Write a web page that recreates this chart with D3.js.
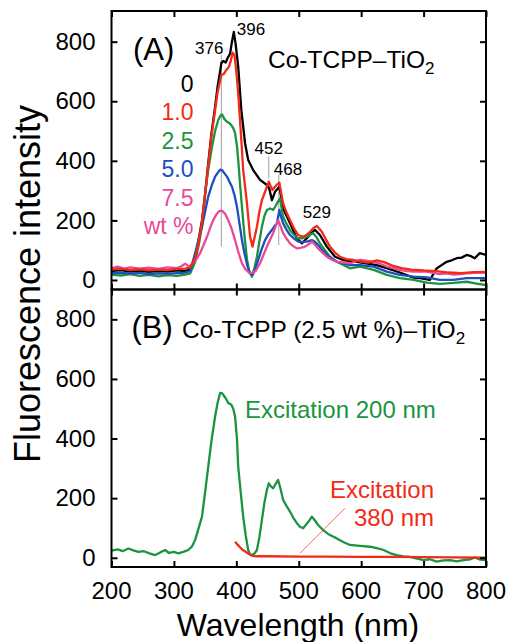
<!DOCTYPE html>
<html lang="en">
<head>
<script src="https://d3js.org/d3.v7.min.js"></script>
</head>
<style>
  body { margin: 0; background: #fff; }
  text { font-family: "Liberation Sans", Arial, sans-serif; }
</style>
<body>
<script>
// Panel A: Co-TCPP loading series [wavelength nm, intensity]
const wt0 = [[200,30],[215,33],[230,28],[245,31],[260,27],[275,30],[290,28],[305,32],[318,30],[326,36],[334,74],[340,140],[345,200],[350,290],[355,392],[360,490],[366,581],[370,650],[374,700],[376,728],[379,735],[383,730],[386,745],[390,760],[393,800],[396,833],[399,790],[403,716],[408,570],[414,459],[419,403],[427,369],[438,336],[449,319],[453,305],[457,268],[462,296],[469,313],[475,240],[486,190],[497,140],[505,123],[513,140],[521,160],[526,168],[534,151],[545,112],[558,78],[571,67],[593,61],[610,55],[625,50],[641,40],[662,25],[684,8],[694,6],[710,0],[721,39],[737,61],[745,66],[753,73],[761,75],[769,84],[776,80],[782,73],[790,90],[800,84]];
const wt1 = [[200,35],[215,38],[230,33],[245,36],[260,32],[275,35],[290,33],[305,37],[318,38],[326,42],[334,72],[340,130],[345,195],[350,285],[355,385],[360,480],[366,570],[370,630],[374,670],[376,688],[380,692],[384,705],[388,715],[391,735],[394,763],[397,755],[400,700],[403,627],[408,470],[411,369],[417,258],[422,145],[426,112],[430,150],[433,179],[437,230],[441,268],[446,296],[452,330],[455,315],[458,302],[462,313],[466,322],[469,327],[472,290],[475,257],[480,228],[486,201],[492,175],[499,151],[507,145],[513,152],[518,162],[524,175],[529,181],[533,172],[537,162],[543,138],[550,112],[558,92],[566,78],[576,70],[588,67],[600,62],[612,58],[625,66],[637,60],[650,48],[665,40],[680,35],[700,32],[720,30],[740,25],[760,23],[780,26],[800,27]];
const wt25 = [[200,18],[215,15],[230,20],[245,14],[260,17],[275,12],[290,16],[305,14],[318,18],[326,22],[334,60],[340,120],[345,180],[350,291],[355,370],[361,447],[366,500],[371,537],[374,550],[377,556],[381,540],[385,531],[388,528],[392,520],[395,510],[398,493],[401,450],[403,403],[406,320],[409,246],[413,150],[417,70],[421,25],[425,11],[429,40],[433,78],[437,130],[441,179],[445,215],[449,235],[454,240],[459,235],[462,245],[465,257],[470,274],[475,212],[480,190],[486,168],[492,152],[499,140],[506,140],[513,145],[518,152],[523,157],[528,145],[534,123],[542,100],[550,78],[558,65],[566,56],[574,48],[582,39],[598,45],[620,34],[641,17],[662,6],[684,0],[705,-9],[726,-13],[748,-10],[769,-6],[785,-12],[800,-17]];
const wt5 = [[200,23],[215,25],[230,21],[245,24],[260,20],[275,22],[290,21],[305,23],[318,25],[326,30],[334,90],[340,140],[345,179],[350,230],[355,280],[361,320],[366,347],[371,362],[374,370],[377,369],[381,358],[385,347],[389,330],[393,313],[397,285],[401,246],[405,190],[409,134],[413,90],[418,45],[422,23],[426,17],[431,40],[435,67],[440,100],[446,134],[451,152],[457,168],[461,180],[465,190],[469,235],[472,210],[475,190],[480,170],[486,151],[492,140],[499,129],[506,128],[513,129],[521,134],[526,128],[531,117],[538,100],[545,84],[553,72],[561,61],[572,55],[582,50],[598,50],[620,45],[641,28],[662,17],[684,11],[705,9],[726,0],[748,0],[769,6],[800,6]];
const wt75 = [[200,40],[210,45],[220,38],[230,42],[245,38],[260,41],[275,37],[290,42],[305,40],[312,46],[318,55],[324,45],[330,55],[336,70],[342,90],[347,115],[353,145],[358,175],[363,201],[368,220],[372,230],[377,233],[382,222],[387,201],[392,175],[398,134],[403,95],[409,56],[415,35],[420,25],[425,23],[431,30],[438,56],[443,82],[449,112],[454,135],[459,157],[463,180],[467,201],[471,180],[475,157],[480,140],[486,123],[491,114],[497,106],[503,108],[510,112],[516,120],[521,129],[526,118],[531,106],[538,92],[545,78],[553,68],[561,61],[572,58],[582,56],[598,67],[610,64],[620,61],[630,55],[641,45],[652,40],[662,34],[673,30],[684,28],[705,28],[715,24],[726,20],[737,22],[748,18],[759,20],[769,22],[780,24],[800,25]];

// Panel B: 2.5 wt % sample at two excitation wavelengths
const ex200 = [[200,24],[210,28],[218,22],[227,31],[235,25],[243,20],[252,22],[262,14],[270,9],[278,18],[286,26],[292,16],[300,20],[307,15],[315,20],[323,26],[329,38],[334,60],[339,95],[345,138],[350,220],[355,306],[360,390],[366,474],[370,520],[374,553],[377,552],[379,547],[383,535],[387,519],[392,513],[395,500],[398,474],[401,400],[403,306],[407,220],[411,138],[415,75],[419,26],[422,12],[425,9],[429,14],[433,26],[437,70],[441,127],[445,185],[449,228],[452,250],[455,240],[459,233],[463,248],[467,261],[471,230],[475,194],[480,175],[486,155],[491,135],[497,116],[502,104],[507,99],[512,112],[517,125],[521,138],[526,125],[531,110],[539,93],[547,80],[554,72],[561,65],[572,52],[582,43],[598,40],[614,37],[625,32],[636,26],[647,15],[657,9],[668,5],[678,3],[690,-3],[700,-8],[710,-5],[721,-13],[732,-9],[742,-8],[753,-12],[764,-8],[775,-5],[782,1],[790,-6],[800,-8]];
const ex380 = [[398,54],[402,44],[406,35],[410,27],[415,20],[419,14],[423,9],[427,6],[432,5],[450,5],[500,4],[550,4],[600,3],[650,3],[700,2],[750,1],[800,0]];

const xTicks = [200, 300, 400, 500, 600, 700, 800];
const yTicks = [0, 200, 400, 600, 800];
const legendLabels = ["0", "1.0", "2.5", "5.0", "7.5", "wt %"];
// peak markers: [nm, line from, line to]
const peakLines = [[376, 112, 755], [452, 341, 414], [468, 117, 352]];

const W = 511, H = 642;
const left = 111.5, right = 486;
const colors = {black: "#000", red: "#f22a17", green: "#1a9440", blue: "#1c4fbf", pink: "#ea4a95"};

const svg = d3.select("body").append("svg")
  .attr("width", W).attr("height", H);
svg.append("rect").attr("width", W).attr("height", H).attr("fill", "#fff");

const x = d3.scaleLinear().domain([200, 800]).range([left, right]);
const yA = d3.scaleLinear().domain([-32, 903]).range([289.5, 11]);
const yB = d3.scaleLinear().domain([-31, 900]).range([567, 289.5]);

function drawFrame(y, top, bottom) {
  const g = svg.append("g");
  const tk = 6;
  g.append("g").attr("transform", `translate(${left},0)`)
    .call(d3.axisLeft(y).tickValues(yTicks).tickSize(-tk).tickPadding(10 + tk));
  g.append("g").attr("transform", `translate(${right},0)`)
    .call(d3.axisRight(y).tickValues(yTicks).tickSize(-tk).tickFormat(""));
  g.append("g").attr("transform", `translate(0,${top})`)
    .call(d3.axisTop(x).tickValues(xTicks).tickSize(-tk).tickFormat(""));
  g.append("g").attr("transform", `translate(0,${bottom})`)
    .call(d3.axisBottom(x).tickValues(xTicks).tickSize(-tk).tickFormat(""));
  g.selectAll(".domain").remove();
  g.selectAll(".tick line").attr("stroke", "#000").attr("stroke-width", 2);
  g.selectAll(".tick text").attr("font-size", 24).attr("fill", "#000")
    .attr("font-family", "Liberation Sans, Arial, sans-serif");
  svg.append("rect").attr("x", left).attr("y", top)
    .attr("width", right - left).attr("height", bottom - top)
    .attr("fill", "none").attr("stroke", "#000").attr("stroke-width", 2);
}

function drawLine(data, y, col, clip) {
  svg.append("path").datum(data)
    .attr("fill", "none").attr("stroke", col).attr("stroke-width", 2.3)
    .attr("stroke-linejoin", "round")
    .attr("clip-path", clip)
    .attr("d", d3.line().x(d => x(d[0])).y(d => y(d[1])));
}

// clip areas
const defs = svg.append("defs");
defs.append("clipPath").attr("id", "clipA").append("rect")
  .attr("x", left).attr("y", 11).attr("width", right - left).attr("height", 278.5);
defs.append("clipPath").attr("id", "clipB").append("rect")
  .attr("x", left).attr("y", 289.5).attr("width", right - left).attr("height", 277.5);

// peak marker lines (thin gray)
peakLines.forEach(p => {
  svg.append("line")
    .attr("x1", x(p[0])).attr("x2", x(p[0]))
    .attr("y1", yA(p[1])).attr("y2", yA(p[2]))
    .attr("stroke", "#888").attr("stroke-width", 0.8);
});

drawLine(wt0, yA, colors.black, "url(#clipA)");
drawLine(wt25, yA, colors.green, "url(#clipA)");
drawLine(wt5, yA, colors.blue, "url(#clipA)");
drawLine(wt75, yA, colors.pink, "url(#clipA)");
drawLine(wt1, yA, colors.red, "url(#clipA)");

drawLine(ex200, yB, colors.green, "url(#clipB)");
drawLine(ex380, yB, colors.red, "url(#clipB)");

drawFrame(yA, 11, 289.5);
drawFrame(yB, 289.5, 567);

// x tick labels under panel B
svg.append("g").selectAll("text").data(xTicks).enter().append("text")
  .attr("x", d => x(d)).attr("y", 599)
  .attr("text-anchor", "middle").attr("font-size", 24)
  .text(d => d);

// axis titles
svg.append("text").attr("x", 298).attr("y", 636)
  .attr("text-anchor", "middle").attr("font-size", 32)
  .text("Wavelength (nm)");
svg.append("text")
  .attr("transform", "translate(40,284) rotate(-90)")
  .attr("text-anchor", "middle").attr("font-size", 36)
  .text("Fluorescence intensity");

// panel A annotations
svg.append("text").attr("x", 133).attr("y", 60).attr("font-size", 31).text("(A)");
const tA = svg.append("text").attr("x", 268).attr("y", 68).attr("font-size", 24.5);
tA.append("tspan").text("Co-TCPP\u2013TiO");
tA.append("tspan").attr("dy", 6).attr("font-size", 17).text("2");

const legCols = [colors.black, colors.red, colors.green, colors.blue, colors.pink, colors.pink];
svg.append("g").selectAll("text").data(legendLabels).enter().append("text")
  .attr("x", 193.5).attr("y", (d, i) => 91.7 + i * 28.5)
  .attr("text-anchor", "end").attr("font-size", 23)
  .attr("fill", (d, i) => legCols[i])
  .text(d => d);

// peak labels
svg.append("text").attr("x", x(376) + 2).attr("y", 53.5).attr("text-anchor", "end").attr("font-size", 17).text("376");
svg.append("text").attr("x", x(396) + 3).attr("y", 35).attr("font-size", 17).text("396");
svg.append("text").attr("x", x(452)).attr("y", 153.5).attr("text-anchor", "middle").attr("font-size", 17).text("452");
svg.append("text").attr("x", x(468) - 5).attr("y", 175).attr("font-size", 17).text("468");
svg.append("text").attr("x", x(529)).attr("y", 218).attr("text-anchor", "middle").attr("font-size", 17).text("529");

// panel B annotations
svg.append("text").attr("x", 131.5).attr("y", 338).attr("font-size", 31).text("(B)");
const tB = svg.append("text").attr("x", 182).attr("y", 338).attr("font-size", 24.5);
tB.append("tspan").text("Co-TCPP (2.5 wt %)\u2013TiO");
tB.append("tspan").attr("dy", 6).attr("font-size", 17).text("2");

svg.append("text").attr("x", 245).attr("y", 418).attr("font-size", 24)
  .attr("fill", colors.green).text("Excitation 200 nm");
svg.append("text").attr("x", 382).attr("y", 498).attr("text-anchor", "middle")
  .attr("font-size", 24).attr("fill", colors.red).text("Excitation");
svg.append("text").attr("x", 394).attr("y", 526).attr("text-anchor", "middle")
  .attr("font-size", 24).attr("fill", colors.red).text("380 nm");

// pointer from the label to the red trace
svg.append("line")
  .attr("x1", x(502)).attr("y1", yB(15))
  .attr("x2", x(574)).attr("y2", yB(166))
  .attr("stroke", colors.red).attr("stroke-width", 0.7);
</script>
</body>
</html>
